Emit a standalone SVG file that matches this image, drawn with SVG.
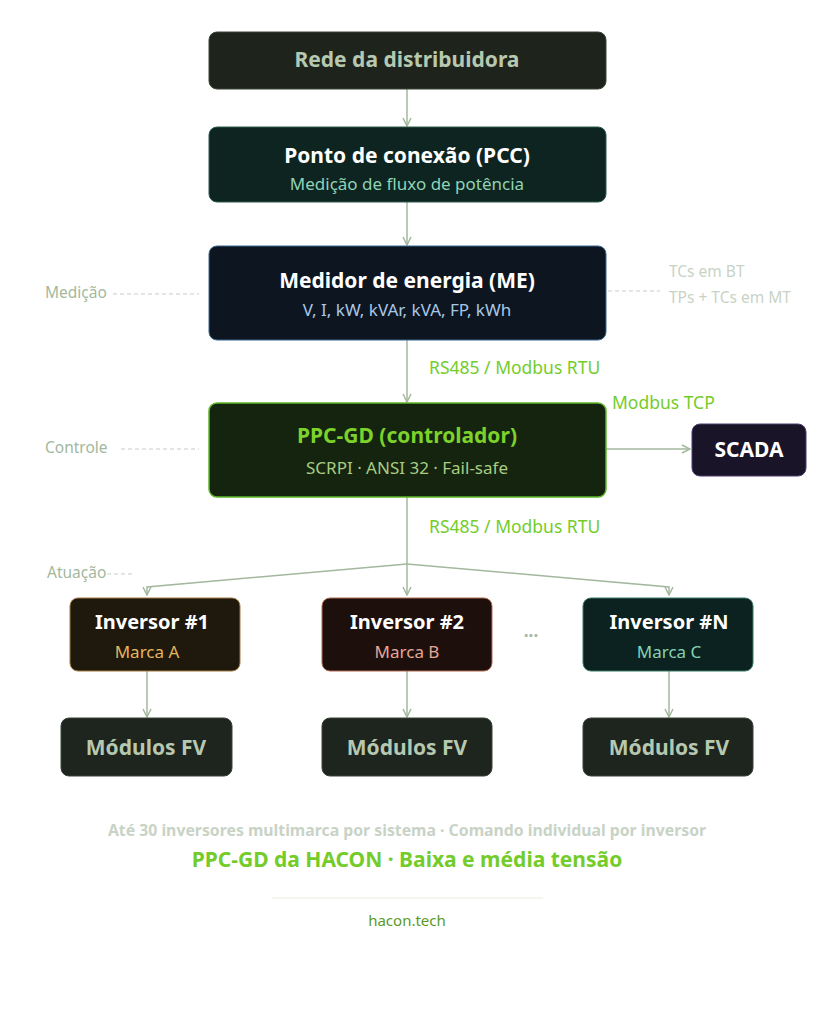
<svg xmlns="http://www.w3.org/2000/svg" width="836" height="1024" viewBox="0 0 836 1024">
<defs>
<marker id="arr" viewBox="0 0 10 10" refX="9" refY="5" markerWidth="10" markerHeight="10" markerUnits="userSpaceOnUse" orient="auto">
<path d="M1,1 L9,5 L1,9" fill="none" stroke="#a3b89e" stroke-width="1.5"/>
</marker>
<style>
text{font-family:"Noto Sans","Open Sans","Liberation Sans",sans-serif;text-anchor:middle}
.t{font-size:21px;font-weight:700;fill:#ffffff}
.ti{font-size:20px;font-weight:700;fill:#ffffff}
.s{font-size:17px}
.c{fill:none;stroke:#a3b89e;stroke-width:1.5}
.d{fill:none;stroke:#c5d0c3;stroke-width:1;stroke-dasharray:4 3}
.lbl{font-size:15.5px;fill:#a3b89e;text-anchor:start}
.g{font-size:17.5px;fill:#74cc2a;text-anchor:start}
.mod{fill:#1e241e;stroke:#3a4238;stroke-width:1}
.mt{font-size:21px;font-weight:700;fill:#b6c9b0}
</style>
</defs>
<rect width="836" height="1024" fill="#ffffff"/>

<g id="connectors">
<line class="c" x1="407" y1="89" x2="407" y2="126" marker-end="url(#arr)"/>
<line class="c" x1="407" y1="202" x2="407" y2="245" marker-end="url(#arr)"/>
<line class="c" x1="407" y1="340" x2="407" y2="402" marker-end="url(#arr)"/>
<line class="c" x1="606" y1="449" x2="690" y2="449" marker-end="url(#arr)"/>
<line class="c" x1="407" y1="497" x2="407" y2="564"/>
<path class="c" d="M407,564 L147,587 L147,595" marker-end="url(#arr)"/>
<line class="c" x1="407" y1="564" x2="407" y2="595" marker-end="url(#arr)"/>
<path class="c" d="M407,564 L669,587 L669,595" marker-end="url(#arr)"/>
<line class="c" x1="147" y1="671" x2="147" y2="717" marker-end="url(#arr)"/>
<line class="c" x1="407" y1="671" x2="407" y2="717" marker-end="url(#arr)"/>
<line class="c" x1="669" y1="671" x2="669" y2="717" marker-end="url(#arr)"/>
<line class="d" x1="113" y1="294" x2="199" y2="294"/>
<line class="d" x1="608" y1="291" x2="660" y2="291"/>
<line class="d" x1="121" y1="449" x2="199" y2="449"/>
<line class="d" x1="107" y1="574" x2="132" y2="574"/>
</g>

<g id="rede">
<rect x="209" y="32" width="397" height="57" rx="8" fill="#1e241c" stroke="#3a4436"/>
<text class="t" x="407" y="67" style="fill:#b6c9b0">Rede da distribuidora</text>
</g>

<g id="pcc">
<rect x="209" y="127" width="397" height="75" rx="8" fill="#0e2420" stroke="#2e5a4c"/>
<text class="t" x="407" y="163">Ponto de conexão (PCC)</text>
<text class="s" x="407" y="190" fill="#8fd3b6">Medição de fluxo de potência</text>
</g>

<g id="medidor">
<rect x="209" y="246" width="397" height="94" rx="8" fill="#0d1620" stroke="#3b6690"/>
<text class="t" x="407" y="288">Medidor de energia (ME)</text>
<text class="s" x="407" y="316" fill="#a9c6e6">V, I, kW, kVAr, kVA, FP, kWh</text>
</g>

<g id="labels">
<text class="lbl" x="45" y="298">Medição</text>
<text class="lbl" x="669" y="277" style="fill:#c8d3c6">TCs em BT</text>
<text class="lbl" x="669" y="303" style="fill:#c8d3c6">TPs + TCs em MT</text>
<text class="g" x="429" y="374">RS485 / Modbus RTU</text>
<text class="g" x="612" y="409">Modbus TCP</text>
<text class="lbl" x="45" y="453">Controle</text>
<text class="g" x="429" y="533">RS485 / Modbus RTU</text>
<text class="lbl" x="47" y="578">Atuação</text>
<text x="531" y="637" style="font-size:17px;font-weight:700;fill:#a3b89e">...</text>
</g>

<g id="ppc">
<rect x="209" y="403" width="397" height="94" rx="8" fill="#14240f" stroke="#5cb82a" stroke-width="1.5"/>
<text class="t" x="407" y="443" style="fill:#7cd22b">PPC-GD (controlador)</text>
<text class="s" x="407" y="474" fill="#a9cc82">SCRPI · ANSI 32 · Fail-safe</text>
</g>

<g id="scada">
<rect x="692" y="424" width="114" height="52" rx="8" fill="#1a1428" stroke="#4c3d70"/>
<text class="t" x="749" y="457">SCADA</text>
</g>

<g id="inv1">
<rect x="70" y="598" width="170" height="73" rx="8" fill="#1f180c" stroke="#a27c42"/>
<text class="ti" x="152" y="629">Inversor #1</text>
<text class="s" x="147" y="658" fill="#e6b55c">Marca A</text>
</g>

<g id="inv2">
<rect x="322" y="598" width="170" height="73" rx="8" fill="#1d100c" stroke="#b36a52"/>
<text class="ti" x="407" y="629">Inversor #2</text>
<text class="s" x="407" y="658" fill="#e6a696">Marca B</text>
</g>

<g id="invN">
<rect x="583" y="598" width="170" height="73" rx="8" fill="#0c2220" stroke="#3a7a66"/>
<text class="ti" x="669" y="629">Inversor #N</text>
<text class="s" x="669" y="658" fill="#84d2b4">Marca C</text>
</g>

<g id="mod1">
<rect class="mod" x="61" y="718" width="171" height="58" rx="8"/>
<text class="mt" x="146" y="755">Módulos FV</text>
</g>
<g id="mod2">
<rect class="mod" x="322" y="718" width="170" height="58" rx="8"/>
<text class="mt" x="407" y="755">Módulos FV</text>
</g>
<g id="modN">
<rect class="mod" x="583" y="718" width="170" height="58" rx="8"/>
<text class="mt" x="669" y="755">Módulos FV</text>
</g>

<g id="footer">
<text x="407" y="836" style="font-size:15.8px;font-weight:700;fill:#c8d3c6">Até 30 inversores multimarca por sistema · Comando individual por inversor</text>
<text x="407" y="867" style="font-size:21px;font-weight:700;fill:#74cc2a">PPC-GD da HACON · Baixa e média tensão</text>
<line x1="272" y1="898" x2="543" y2="898" stroke="#e6efdb" stroke-width="1"/>
<text x="407" y="926" style="font-size:15px;fill:#5a9a1e">hacon.tech</text>
</g>
</svg>
